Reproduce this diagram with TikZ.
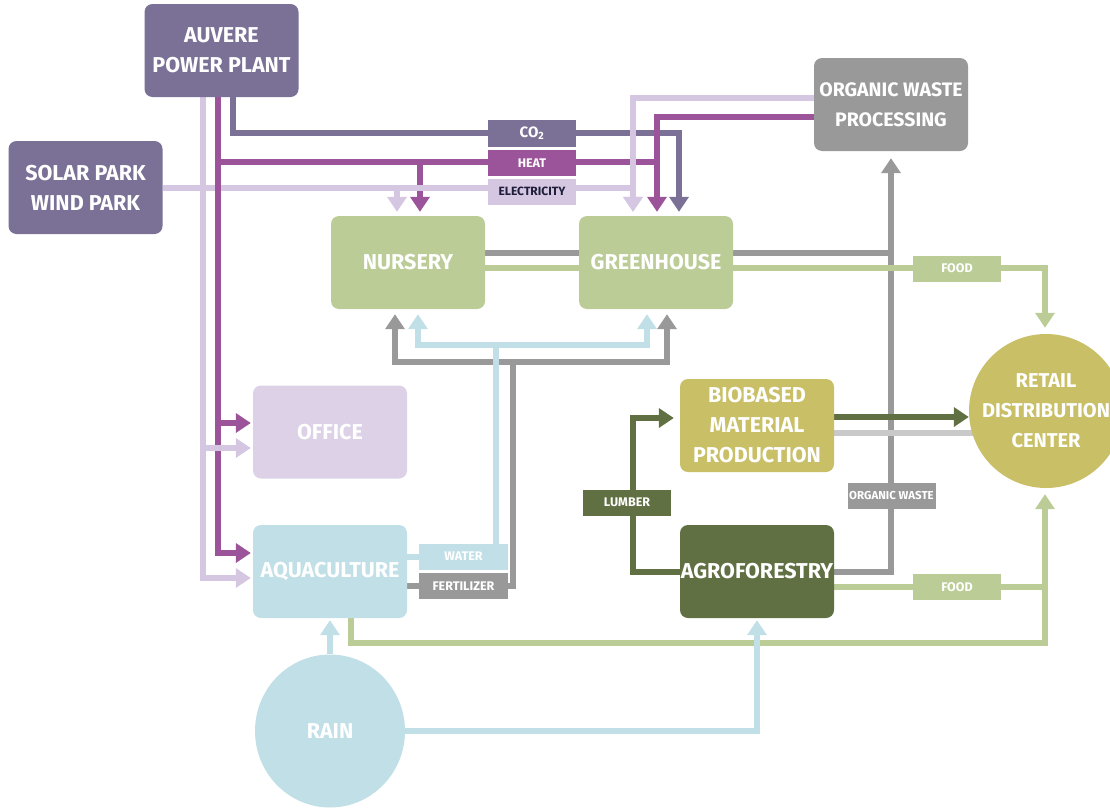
\documentclass[tikz,border=0pt]{standalone}
\usepackage{fontspec}
\setmainfont{Fira Sans}
\usetikzlibrary{arrows.meta,shapes.geometric}
\definecolor{cPP}{HTML}{7B7096}
\definecolor{cHeat}{HTML}{9B5499}
\definecolor{cElec}{HTML}{D5C7E2}
\definecolor{cOffice}{HTML}{DCD1E6}
\definecolor{cGreen}{HTML}{BCCC97}
\definecolor{cGray}{HTML}{999999}
\definecolor{cLGray}{HTML}{C9C9C9}
\definecolor{cBlue}{HTML}{C0DFE6}
\definecolor{cOlive}{HTML}{C8BF67}
\definecolor{cDark}{HTML}{617043}
\definecolor{cNavy}{HTML}{1E1E3C}
\pgfdeclarelayer{bg}
\pgfsetlayers{bg,main}
\begin{document}
\begin{tikzpicture}[x=1pt,y=-1pt,
  ln/.style={line width=6pt},
  tip/.style={-{Triangle[width=19pt,length=15pt]}},
  box/.style={rounded corners=8pt, minimum width=154pt, minimum height=93pt, inner sep=0pt,
    text=white, align=center, font=\fontsize{21.5}{30}\selectfont\bfseries},
  lab/.style={minimum width=88pt, minimum height=26pt, inner sep=0pt, text=white,
    font=\fontsize{12.5}{14}\selectfont\bfseries}
]
\useasboundingbox (0,0) rectangle (1110,811);

% ---------- nodes ----------
\path
  (221.5,50.5) node[box,fill=cPP] (pp) {AUVERE\\POWER PLANT}
  (85.5,187.5) node[box,fill=cPP] (sp) {SOLAR PARK\\WIND PARK}
  (408,262.5) node[box,fill=cGreen] (nur) {NURSERY}
  (656,262.5) node[box,fill=cGreen] (gh) {GREENHOUSE}
  (891,104.5) node[box,fill=cGray,font=\fontsize{19.5}{30}\selectfont\bfseries] (ow) {ORGANIC WASTE\\PROCESSING}
  (330,432) node[box,fill=cOffice] (off) {OFFICE}
  (330,571.5) node[box,fill=cBlue] (aq) {AQUACULTURE}
  (757,425.5) node[box,fill=cOlive] (bio) {BIOBASED\\MATERIAL\\PRODUCTION}
  (757,571.5) node[box,fill=cDark] (agro) {AGROFORESTRY}
  (1046,411) node[circle,minimum size=154pt,inner sep=0pt,fill=cOlive,text=white,align=center,
     font=\fontsize{20}{30}\selectfont\bfseries] (ret) {RETAIL\\DISTRIBUTION\\CENTER}
  (330,731) node[ellipse,minimum width=150pt,minimum height=153pt,inner sep=0pt,fill=cBlue,text=white,
     font=\fontsize{21.5}{30}\selectfont\bfseries] (rain) {RAIN};

\begin{pgfonlayer}{bg}
% ---------- gray flows ----------
\draw[ln,cGray] ([yshift=9.5pt]nur.east) -- ([yshift=9.5pt]gh.west);
\draw[ln,cGray] ([yshift=9.5pt]gh.east) -- ([yshift=9.5pt]gh.east -| ow.south);
\draw[ln,tip,cGray] (agro.east) -| ([yshift=-7pt]ow.south);
% fertilizer
\coordinate (fj) at (513,362);
\draw[ln,cGray] ([yshift=-14.5pt]aq.east) -| ([yshift=3pt]fj);
\draw[ln,tip,cGray,shorten >=5pt] ([xshift=3pt]fj) -| ([xshift=-13pt]nur.south);
\draw[ln,tip,cGray,shorten >=5pt] ([xshift=-3pt]fj) -| ([xshift=11pt]gh.south);
% light gray biobased -> retail
\draw[ln,cLGray] ([yshift=-7.5pt]bio.east) -- ([yshift=-22pt]ret.center);

% ---------- water ----------
\coordinate (wj) at (496,345);
\draw[ln,cBlue] ([yshift=14.5pt]aq.east) -| ([yshift=3pt]wj);
\draw[ln,tip,cBlue,shorten >=5pt] ([xshift=3pt]wj) -| ([xshift=10pt]nur.south);
\draw[ln,tip,cBlue,shorten >=5pt] ([xshift=-3pt]wj) -| ([xshift=-9pt]gh.south);

% ---------- green food ----------
\draw[ln,cGreen] ([yshift=-5.5pt]nur.east) -- ([yshift=-5.5pt]gh.west);
\draw[ln,tip,cGreen,shorten >=6pt] ([yshift=-5.5pt]gh.east) -| ([xshift=-1pt]ret.north);
\coordinate (gj) at (1045,587);
\draw[ln,cGreen] ([yshift=-15.5pt]agro.east) -- ([xshift=3pt]gj);
\draw[ln,tip,cGreen,shorten >=6pt] ([xshift=21pt]aq.south) |- (1045,643) -- ([xshift=-1pt]ret.south);

% ---------- rain ----------
\draw[ln,tip,cBlue] (rain.north) -- ([yshift=-2pt]aq.south);
\draw[ln,tip,cBlue] (rain.east) -| ([yshift=-2pt]agro.south);

% ---------- dark green ----------
\draw[ln,tip,cDark] ([yshift=8.5pt]bio.east) -- ([yshift=8.5pt]bio.east -| ret.west);
\draw[ln,tip,cDark,shorten >=6pt] (agro.west) -- ++(-47,0) |- ([yshift=7.5pt]bio.west);

% ---------- CO2 ----------
\draw[ln,tip,cPP,shorten >=4pt] ([xshift=11.5pt]pp.south) -- ++(0,36) -| ([xshift=23pt]gh.north);

% ---------- heat ----------
\draw[ln,tip,cHeat,shorten >=2pt] ([xshift=-3.5pt]pp.south) |- ([yshift=18.5pt]aq.west);
\draw[ln,tip,cHeat,shorten >=2pt] (218,423) -- ([yshift=9pt]off.west);
\draw[ln,cHeat] (218,162) -- (660,162);
\draw[ln,tip,cHeat,shorten >=4pt] (420,162) -- ([xshift=12pt]nur.north);
\draw[ln,tip,cHeat,shorten >=4pt] ([yshift=-12.5pt]ow.west) -| ([xshift=1pt]gh.north);

% ---------- electricity ----------
\draw[ln,tip,cElec,shorten >=2pt] ([xshift=-18.5pt]pp.south) |- ([yshift=-6.5pt]aq.west);
\draw[ln,tip,cElec,shorten >=2pt] (203,448) -- ([yshift=-16pt]off.west);
\draw[ln,tip,cElec,shorten >=4pt] (sp.east) -| ([xshift=-23pt]gh.north);
\draw[ln,tip,cElec,shorten >=4pt] ([yshift=6.5pt]ow.west) -| ([xshift=-23pt]gh.north);
\draw[ln,tip,cElec,shorten >=4pt] ([xshift=-11pt]nur.north |- sp.east) -- ([xshift=-11pt]nur.north);
\draw[ln,cHeat] (218,150) -- (218,200);
\end{pgfonlayer}

% ---------- labels ----------
\node[lab,fill=cPP,minimum height=27pt,font=\fontsize{15}{16}\selectfont\bfseries] (lco) at (532,133.5) {CO\textsubscript{2}};
\node[lab,fill=cHeat] (lheat) at (532,163) {HEAT};
\node[lab,fill=cElec,text=cNavy,font=\fontsize{12}{14}\selectfont\bfseries] (lel) at (532,191.5) {ELECTRICITY};
\node[lab,fill=cGreen] (lf1) at (957,268.5) {FOOD};
\node[lab,fill=cGreen] (lf2) at (957,587) {FOOD};
\node[lab,fill=cGray,font=\fontsize{11.5}{13}\selectfont\bfseries] (low) at (891.5,496) {ORGANIC WASTE};
\node[lab,fill=cBlue,minimum width=89pt] (lw) at (463.5,556.5) {WATER};
\node[lab,fill=cGray,minimum width=89pt] (lfe) at (463.5,586) {FERTILIZER};
\node[lab,fill=cDark] (llu) at (627,502.5) {LUMBER};
\end{tikzpicture}
\end{document}
